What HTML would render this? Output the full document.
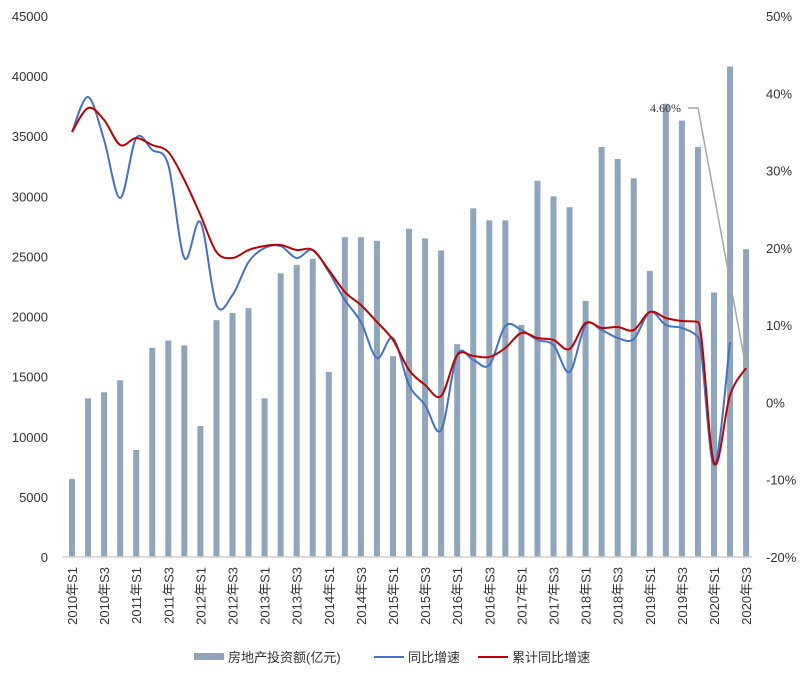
<!DOCTYPE html>
<html><head><meta charset="utf-8"><style>
body{margin:0;background:#fff;}
svg{display:block;font-family:"Liberation Sans","Noto Sans CJK SC",sans-serif;}
</style></head><body>
<svg id="c" width="810" height="676" xmlns="http://www.w3.org/2000/svg"></svg>
<script>
const s=document.getElementById('c');let h='';
const Y0=557,T=16;
for(let i=0;i<=9;i++){let y=Y0-i*(Y0-T)/9;h+=`<text x="48" y="${y+5}" font-size="13" fill="#333" text-anchor="end">${i*5000}</text>`;}
for(let i=0;i<=7;i++){let y=Y0-i*(Y0-T)/7;let v=-20+i*10;h+=`<text x="766" y="${y+5}" font-size="13" fill="#333">${v}%</text>`;}
const bars=[6500,13200,13700,14700,8900,17400,18000,17600,10900,19700,20300,20700,13200,23600,24300,24800,15400,26600,26600,26300,16700,27300,26500,25500,17700,29000,28000,28000,19300,31300,30000,29100,21300,34100,33100,31500,23800,37700,36300,34100,22000,40800,25600];
const X=i=>72+16.05*i;
bars.forEach((b,i)=>{let hh=b/45000*(Y0-T);h+=`<rect x="${X(i)-3}" y="${Y0-hh}" width="6" height="${hh}" fill="#8fa5bb"/>`;});
h+=`<line x1="62" y1="${Y0}" x2="752" y2="${Y0}" stroke="#d0d0d0" stroke-width="1.5"/>`;
const yrs=['2010','2010','2011','2011','2012','2012','2013','2013','2014','2014','2015','2015','2016','2016','2017','2017','2018','2018','2019','2019','2020','2020'];
for(let k=0;k<22;k++){let x=X(2*k)+5;h+=`<text transform="translate(${x},567) rotate(-90)" font-size="13" fill="#333" text-anchor="end">${yrs[k]}年S${k%2?3:1}</text>`;}
function path(pts,fix){const n=pts.length;const tg=pts.map((p,i)=>{let a=pts[Math.max(i-1,0)],b=pts[Math.min(i+1,n-1)];let t=[(b[0]-a[0])/6,(b[1]-a[1])/6];if(fix&&fix[i]!==undefined)t[1]*=fix[i];return t;});
let d=`M${pts[0][0]},${pts[0][1]}`;for(let i=0;i<n-1;i++){let p1=pts[i],p2=pts[i+1];d+=` C${p1[0]+tg[i][0]},${p1[1]+tg[i][1]} ${p2[0]-tg[i+1][0]},${p2[1]-tg[i+1][1]} ${p2[0]},${p2[1]}`;}return d;}
const blue=[132,97,140,198,138,150,165,258,222,305,295,262,248,246,258,250,272,300,322,358,338,385,405,430,355,360,365,326,330,340,345,372,325,330,338,339,312,325,328,337,465,342];
const red=[132,108,120,145,138,145,152,180,215,252,258,250,246,245,250,250,270,292,305,322,340,370,385,396,355,356,357,348,333,338,340,349,323,328,327,330,312,318,321,322,463,395,368];
h+=`<path d="${path(blue.map((y,i)=>[X(i),y]),{39:0.25})}" fill="none" stroke="#4472c4" stroke-width="2"/>`;
h+=`<path d="${path(red.map((y,i)=>[X(i),y]),{39:0.05})}" fill="none" stroke="#c00000" stroke-width="2"/>`;
h+=`<polyline points="688,108 698,108 746,368" fill="none" stroke="#a6a6a6" stroke-width="1.5"/>`;
h+=`<text x="650" y="112" font-size="12" fill="#333" font-family="Liberation Serif,serif">4.60%</text>`;
h+=`<rect x="194" y="653" width="30" height="7" fill="#8fa5bb"/><text x="228" y="662" font-size="13" fill="#333">房地产投资额(亿元)</text>`;
h+=`<line x1="374" y1="657" x2="404" y2="657" stroke="#4472c4" stroke-width="2"/><text x="408" y="662" font-size="13" fill="#333">同比增速</text>`;
h+=`<line x1="478" y1="657" x2="508" y2="657" stroke="#c00000" stroke-width="2"/><text x="512" y="662" font-size="13" fill="#333">累计同比增速</text>`;
s.innerHTML=h;
</script>
</body></html>
